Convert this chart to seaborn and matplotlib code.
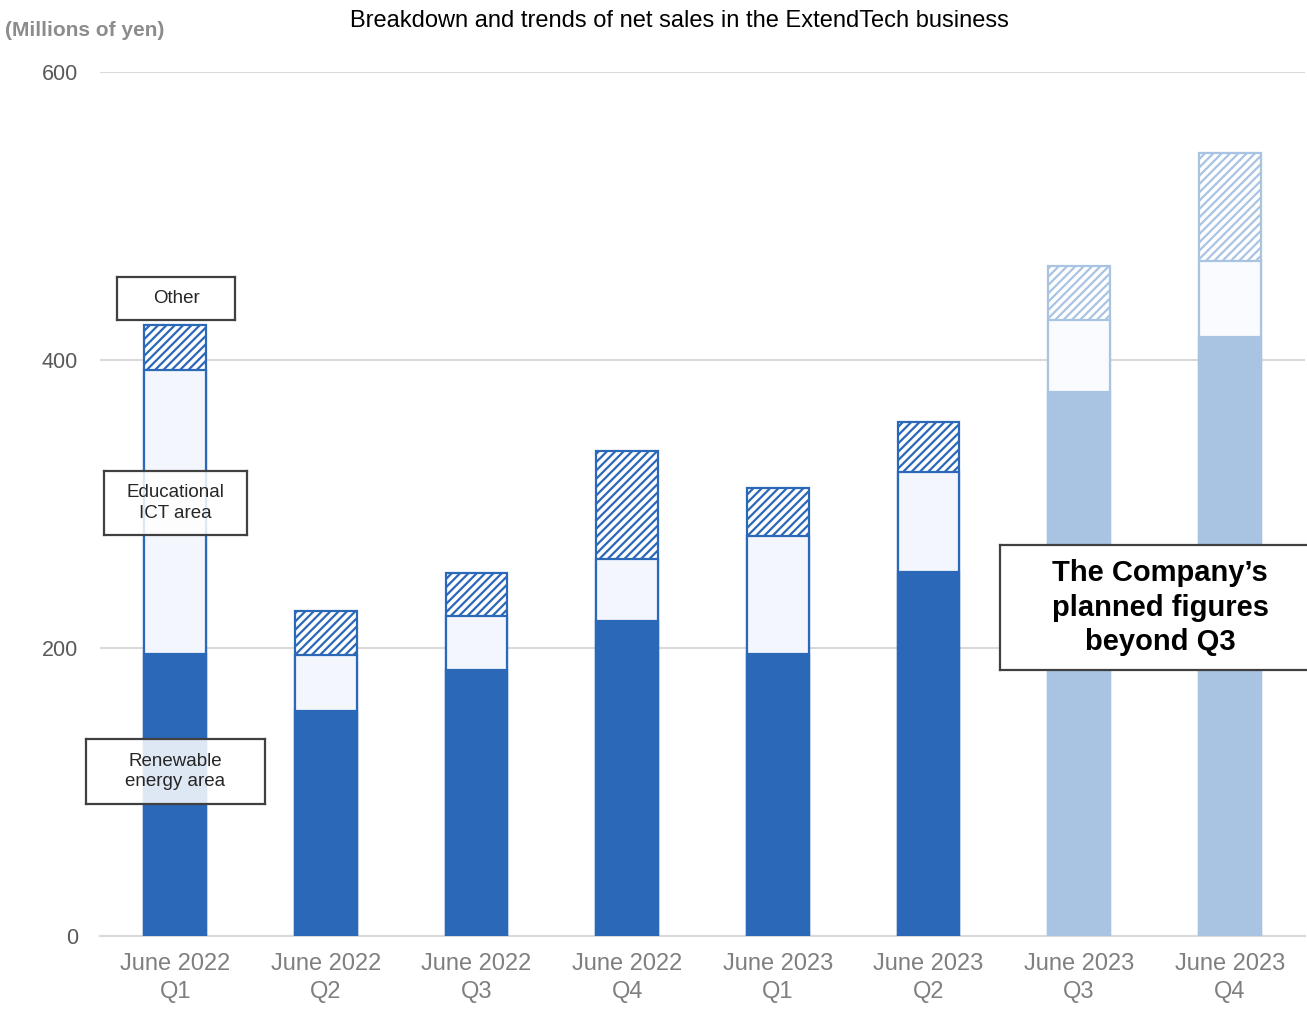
import numpy as np
import matplotlib
matplotlib.use("Agg")
import matplotlib.pyplot as plt
import seaborn as sns

# Data (millions of yen)
quarters = ["June 2022\nQ1", "June 2022\nQ2", "June 2022\nQ3", "June 2022\nQ4",
            "June 2023\nQ1", "June 2023\nQ2", "June 2023\nQ3", "June 2023\nQ4"]
renewable = [196, 156, 185, 219, 196, 253, 378, 416]
educational = [197, 39, 37, 43, 82, 69, 50, 53]
other = [31, 31, 30, 75, 33, 35, 37, 75]
planned = [False, False, False, False, False, False, True, True]

sns.set_style("white")
plt.rcParams["font.family"] = ["Liberation Sans", "DejaVu Sans"]
plt.rcParams["hatch.linewidth"] = 1.6

DARK = "#2B68B8"
LIGHT = "#A9C3E2"

fig = plt.figure(figsize=(13.07, 10.10), dpi=100)
ax = fig.add_axes([100 / 1307, 74 / 1010, 1205 / 1307, 864 / 1010])

ren = np.array(renewable)
edu_top = ren + np.array(educational)
total = edu_top + np.array(other)

# Overlay technique: total first, then renewable+educational, then renewable
layers = [
    (total, "other"),
    (edu_top, "edu"),
    (ren, "ren"),
]
for heights, kind in layers:
    n0 = len(ax.patches)
    sns.barplot(x=quarters, y=heights, color=DARK, width=0.41, ax=ax,
                zorder=3, saturation=1)
    for i, p in enumerate(ax.patches[n0:]):
        c = LIGHT if planned[i] else DARK
        p.set_linewidth(1.6)
        if kind == "other":
            p.set_facecolor("white")
            p.set_edgecolor(c)
            p.set_hatch("////")
        elif kind == "edu":
            p.set_facecolor("#FAFBFE" if planned[i] else "#F3F6FC")
            p.set_edgecolor(c)
            p.set_hatch(None)
        else:
            p.set_facecolor(c)
            p.set_edgecolor(c)
            p.set_hatch(None)

ax.set_xlim(-0.5, 7.5)
ax.set_ylim(0, 600)
ax.set_yticks([0, 200, 400, 600])
ax.yaxis.grid(True, color="#D9D9D9", linewidth=1.5, zorder=0)
ax.set_axisbelow(True)
for s in ["top", "right", "left"]:
    ax.spines[s].set_visible(False)
ax.spines["bottom"].set_color("#D9D9D9")
ax.spines["bottom"].set_linewidth(1.5)
ax.tick_params(axis="both", length=0)
ax.tick_params(axis="x", labelsize=17, labelcolor="#7F7F7F", pad=12)
ax.tick_params(axis="y", labelsize=15.5, labelcolor="#595959", pad=16)
for t in ax.get_xticklabels():
    t.set_linespacing(1.35)
ax.set_xlabel("")
ax.set_ylabel("")

fig.text(679 / 1307, 1 - 21 / 1010, "Breakdown and trends of net sales in the ExtendTech business",
         ha="center", va="center", fontsize=17, color="black")
fig.text(5 / 1307, 1 - 30 / 1010, "(Millions of yen)", ha="left", va="center",
         fontsize=15, fontweight="bold", color="#8C8C8C")


def label_box(x0, y0, x1, y1, text, alpha=0.85, **kw):
    ax_box = fig.add_axes([x0 / 1307, 1 - y1 / 1010, (x1 - x0) / 1307, (y1 - y0) / 1010])
    ax_box.set_xticks([])
    ax_box.set_yticks([])
    ax_box.set_facecolor((1, 1, 1, alpha))
    for s in ax_box.spines.values():
        s.set_color("#404040")
        s.set_linewidth(1.6)
    ax_box.text(0.5, 0.5, text, ha="center", va="center", transform=ax_box.transAxes,
                **kw)


label_box(117, 277, 235, 320, "Other", fontsize=13.5, color="#262626")
label_box(104, 471, 247, 535, "Educational\nICT area", fontsize=13.5, color="#262626",
          linespacing=1.25)
label_box(86, 739, 265, 804, "Renewable\nenergy area", fontsize=13.5, color="#262626",
          linespacing=1.25)
label_box(1000, 545, 1320, 670, "The Company\u2019s\nplanned figures\nbeyond Q3",
          alpha=1.0, fontsize=21, fontweight="bold", color="black", linespacing=1.28)

fig.savefig("out.png", dpi=100)
